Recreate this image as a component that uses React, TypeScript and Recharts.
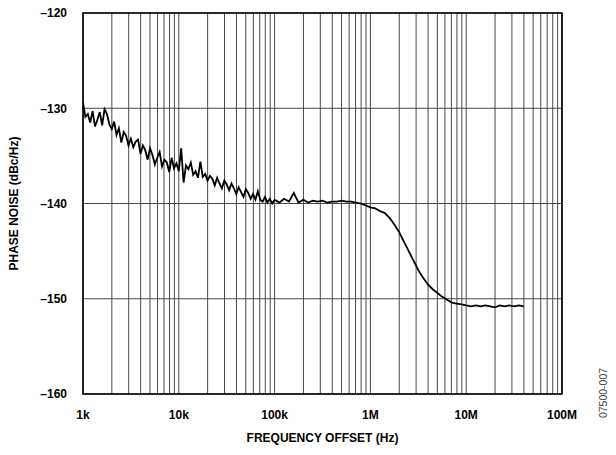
import { LineChart, Line, XAxis, YAxis, CartesianGrid, ReferenceArea, Label } from 'recharts';

// Phase noise vs. frequency offset.
const FREQ_HZ = [
  1000, 1059, 1122, 1189, 1259, 1334, 1413, 1496, 1585, 1679,
  1778, 1884, 1995, 2113, 2239, 2371, 2512, 2661, 2818, 2985,
  3162, 3350, 3548, 3758, 3981, 4217, 4467, 4732, 5012, 5309,
  5623, 5957, 6310, 6683, 7079, 7499, 7943, 8414, 8913, 9441,
  10000, 10590, 11220, 11890, 12590, 13340, 14130, 14960, 15850, 16790,
  17780, 18840, 19950, 21130, 22390, 23710, 25120, 26610, 28180, 29850,
  31620, 33500, 35480, 37580, 39810, 42170, 44670, 47320, 50120, 53090,
  56230, 59570, 63100, 66830, 70790, 74990, 79430, 84140, 89130, 94410,
  100000, 112200, 125900, 141300, 158500, 177800, 199500, 223900, 251200, 281800,
  316200, 354800, 398100, 446700, 501200, 562300, 631000, 707900, 794300, 891300,
  1000000, 1122000, 1259000, 1413000, 1585000, 1778000, 1995000, 2239000, 2512000, 2818000,
  3162000, 3548000, 3981000, 4467000, 5012000, 5623000, 6310000, 7079000, 7943000, 8913000,
  10000000, 11220000, 12590000, 14130000, 15850000, 17780000, 19950000, 22390000, 25120000, 28180000,
  31620000, 35480000, 39810000,
];

const PHASE_NOISE = [
  -129.4, -130.9, -130.6, -131.5, -130.3, -131.9, -131.2, -130.4, -131.8, -130.1,
  -130.6, -131.7, -132.2, -131.4, -132.8, -132.1, -133.6, -132.5, -132.9, -133.9,
  -133.2, -134.1, -133.5, -133.3, -134.8, -133.9, -134.4, -135.4, -134.2, -134.9,
  -135.9, -135.2, -134.6, -136.1, -135.4, -135.7, -136.7, -135.2, -136.3, -135.8,
  -136.6, -134.2, -137.8, -136.0, -136.4, -135.7, -137.0, -136.6, -137.3, -135.6,
  -137.2, -136.9, -137.6, -137.1, -137.4, -138.1, -137.3, -137.9, -138.4, -137.6,
  -138.0, -138.6, -137.9, -138.4, -139.0, -138.3, -138.8, -139.3, -138.5, -138.9,
  -139.5, -139.0, -139.6, -138.7, -139.6, -139.8, -139.3, -139.9, -139.5, -140.0,
  -139.6, -139.9, -139.5, -139.8, -138.9, -139.9, -139.6, -139.9, -139.7, -139.8,
  -139.7, -139.9, -139.8, -139.8, -139.7, -139.8, -139.8, -139.9, -140.0, -140.2,
  -140.4, -140.5, -140.8, -141.0, -141.5, -142.2, -143.0, -144.0, -145.0, -146.0,
  -147.0, -147.8, -148.5, -149.0, -149.4, -149.8, -150.1, -150.4, -150.5, -150.6,
  -150.7, -150.8, -150.7, -150.8, -150.7, -150.8, -150.9, -150.7, -150.8, -150.7,
  -150.8, -150.7, -150.8,
];

// grid lines at 1..9 x every decade
const X_TICKS = [
  1000, 2000, 3000, 4000, 5000, 6000, 7000, 8000, 9000,
  10000, 20000, 30000, 40000, 50000, 60000, 70000, 80000, 90000,
  100000, 200000, 300000, 400000, 500000, 600000, 700000, 800000, 900000,
  1000000, 2000000, 3000000, 4000000, 5000000, 6000000, 7000000, 8000000, 9000000,
  10000000, 20000000, 30000000, 40000000, 50000000, 60000000, 70000000, 80000000, 90000000,
  100000000,
];
const X_LABELS: Record<number, string> = {
  1000: '1k', 10000: '10k', 100000: '100k', 1000000: '1M', 10000000: '10M', 100000000: '100M',
};
const Y_TICKS = [-160, -150, -140, -130, -120];

const FONT = '"Liberation Sans", Arial, sans-serif';

const rows = FREQ_HZ.map((f, i) => ({ f, pn: PHASE_NOISE[i] }));

export default function App() {
  return (
    <div style={{ position: 'absolute', left: 0, top: 0, width: 616, height: 455, background: '#fff' }}>
      <LineChart width={616} height={455} data={rows} margin={{ top: 13, right: 54, bottom: 0, left: 0 }}>
        <CartesianGrid stroke="#4a4a4a" strokeWidth={1} />
        <XAxis
          dataKey="f"
          type="number"
          scale="log"
          domain={[1000, 100000000]}
          ticks={X_TICKS}
          interval={0}
          tickFormatter={(v: number) => X_LABELS[v] ?? ''}
          tick={{ fill: '#000', fontSize: 12, fontWeight: 700, fontFamily: FONT }}
          tickLine={false}
          axisLine={false}
          tickMargin={10}
          allowDataOverflow
          height={61}
        >
          <Label
            value="FREQUENCY OFFSET (Hz)"
            position="insideBottom"
            offset={13}
            style={{ fill: '#000', fontSize: 12, fontWeight: 700, fontFamily: FONT }}
          />
        </XAxis>
        <YAxis
          type="number"
          domain={[-160, -120]}
          ticks={Y_TICKS}
          interval={0}
          tickFormatter={(v: number) => (v < 0 ? '\u2013' + Math.abs(v) : String(v))}
          tick={{ fill: '#000', fontSize: 12, fontWeight: 700, fontFamily: FONT }}
          tickLine={false}
          axisLine={false}
          tickMargin={10}
          width={83}
        >
          <Label
            value="PHASE NOISE (dBc/Hz)"
            angle={-90}
            position="insideLeft"
            offset={14}
            style={{ textAnchor: 'middle', fill: '#000', fontSize: 12, fontWeight: 700, fontFamily: FONT }}
          />
        </YAxis>
        <ReferenceArea
          x1={1000}
          x2={100000000}
          y1={-160}
          y2={-120}
          fill="none"
          stroke="#000"
          strokeWidth={1.6}
          ifOverflow="visible"
        />
        <Line
          type="linear"
          dataKey="pn"
          stroke="#000"
          strokeWidth={1.8}
          dot={false}
          isAnimationActive={false}
        />
      </LineChart>
      <div
        style={{
          position: 'absolute',
          left: 603,
          top: 393,
          transform: 'translate(-50%, -50%) rotate(-90deg)',
          fontFamily: FONT,
          fontSize: 10.5,
          color: '#444',
          whiteSpace: 'nowrap',
        }}
      >
        07500-007
      </div>
    </div>
  );
}
